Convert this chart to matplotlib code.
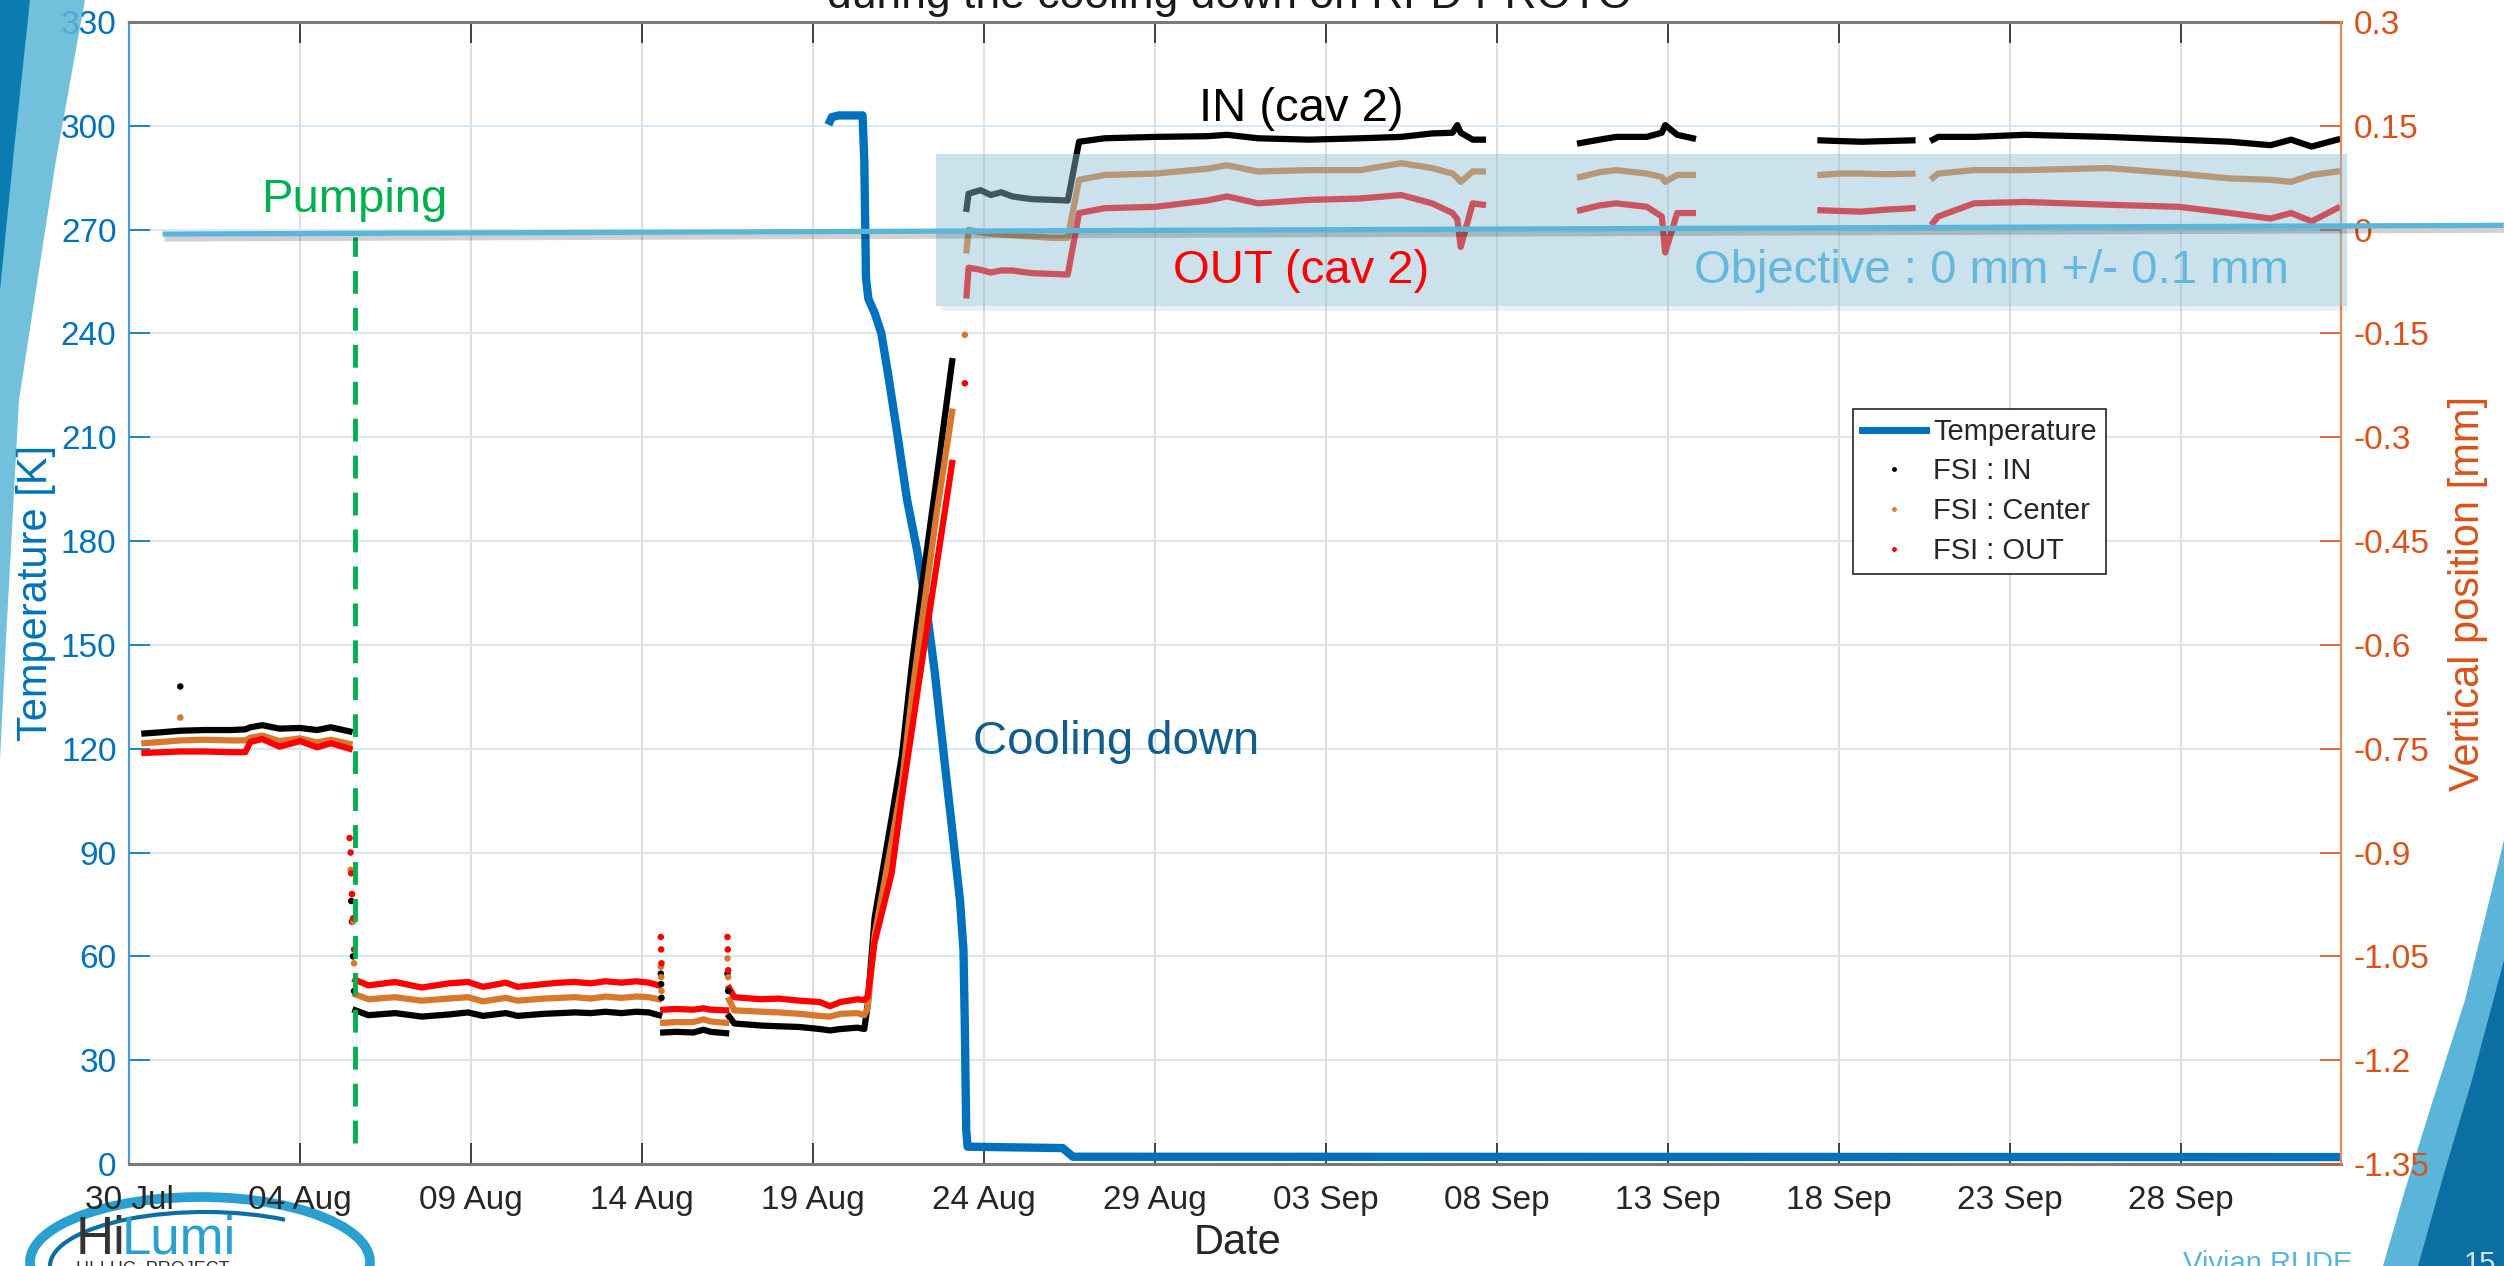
import datetime as dt
import numpy as np
import matplotlib
matplotlib.use("Agg")
import matplotlib.pyplot as plt
import matplotlib.dates as mdates
import matplotlib.patheffects as pe
from matplotlib.lines import Line2D
from matplotlib.patches import Rectangle, Polygon, Arc

plt.rcParams['font.family'] = ['Liberation Sans', 'DejaVu Sans']

START = dt.datetime(2021, 7, 30)
NAN = np.nan

# ---- cryostat temperature (days after 30 Jul, kelvin) ----
temp_days = [20.45, 20.55, 20.75, 21.45, 21.50, 21.55, 21.62, 21.80, 22.00, 22.20,
             22.45, 22.75, 23.05, 23.30, 23.55, 23.85, 24.10, 24.30, 24.40, 24.44,
             24.48, 24.52, 27.30, 27.60, 64.70]
temp_K = [300.3, 302.5, 303.0, 303.0, 290.0, 256.0, 250.0, 246.0, 240.0, 228.0,
          212.0, 192.0, 177.0, 162.0, 143.0, 116.0, 94.0, 76.0, 62.0, 40.0,
          10.0, 5.0, 4.6, 2.1, 2.0]

# ---- FSI vertical positions [mm]; NaN marks gaps between acquisitions ----
fsi_days = [
    0.45, 1.0, 1.5, 2.2, 3.0, 3.4, 3.55, 3.9, 4.4, 5.0, 5.5, 5.9, 6.45, NAN,
    6.62, 7.0, 7.78, 8.56, 9.35, 9.91, 10.35, 11.02, 11.36, 12.14, 12.6, 13.04,
    13.5, 13.93, 14.4, 14.83, 15.2, 15.5, NAN,
    15.62, 16.0, 16.5, 16.8, 17.0, 17.46, NAN,
    17.55, 17.7, 18.5, 19.0, 19.6, 20.2, 20.5, 20.8, 21.3, 21.5,
    21.6, 21.8, 22.3, 22.6, 22.9, 23.2, 23.6, 24.07, NAN,
    24.49, 24.55, 24.9, 25.2, 25.5, 25.83, 26.1, 26.43, 27.0, 27.45,
    27.78, 28.53, 30.02, 31.52, 32.11, 33.01, 34.51, 36.0, 37.2, 38.1,
    38.7, 38.84, 38.94, 39.29, 39.59, NAN,
    42.43, 43.0, 43.48, 44.38, 44.82, 44.92, 45.27, 45.73, NAN,
    49.46, 50.0, 50.66, 51.4, 52.15, NAN,
    52.75, 52.9, 53.95, 55.44, 57.84, 59.93, 61.43, 62.62, 63.22, 63.82, 64.57,
]
fsi_in = [
    -0.728, -0.726, -0.724, -0.723, -0.723, -0.722, -0.719, -0.716, -0.721, -0.720, -0.723, -0.719, -0.725, NAN,
    -1.128, -1.135, -1.132, -1.137, -1.134, -1.131, -1.136, -1.132, -1.136, -1.133, -1.132, -1.131,
    -1.132, -1.130, -1.132, -1.130, -1.131, -1.135, NAN,
    -1.160, -1.159, -1.160, -1.156, -1.159, -1.161, NAN,
    -1.137, -1.147, -1.150, -1.151, -1.152, -1.155, -1.157, -1.155, -1.153, -1.155,
    -1.120, -0.995, -0.850, -0.760, -0.625, -0.510, -0.365, -0.190, NAN,
    0.030, 0.052, 0.057, 0.050, 0.054, 0.048, 0.046, 0.044, 0.043, 0.042,
    0.127, 0.132, 0.134, 0.135, 0.137, 0.132, 0.130, 0.132, 0.134, 0.139,
    0.140, 0.151, 0.140, 0.130, 0.130, NAN,
    0.125, 0.130, 0.134, 0.134, 0.140, 0.151, 0.137, 0.132, NAN,
    0.129, 0.128, 0.127, 0.128, 0.129, NAN,
    0.130, 0.134, 0.134, 0.137, 0.134, 0.130, 0.127, 0.122, 0.130, 0.120, 0.130,
]
fsi_center = [
    -0.742, -0.740, -0.738, -0.737, -0.738, -0.738, -0.734, -0.731, -0.739, -0.735, -0.741, -0.737, -0.743, NAN,
    -1.105, -1.112, -1.109, -1.114, -1.111, -1.109, -1.115, -1.110, -1.114, -1.111, -1.110, -1.109,
    -1.111, -1.108, -1.110, -1.108, -1.109, -1.112, NAN,
    -1.146, -1.145, -1.145, -1.141, -1.144, -1.146, NAN,
    -1.113, -1.128, -1.130, -1.131, -1.133, -1.136, -1.137, -1.133, -1.132, -1.135,
    -1.125, -1.020, -0.885, -0.800, -0.670, -0.560, -0.415, -0.263, NAN,
    -0.030, 0.000, -0.004, -0.006, -0.007, -0.008, -0.009, -0.010, -0.012, -0.012,
    0.072, 0.079, 0.081, 0.088, 0.093, 0.084, 0.086, 0.086, 0.096, 0.089,
    0.081, 0.075, 0.069, 0.084, 0.084, NAN,
    0.076, 0.083, 0.086, 0.081, 0.076, 0.069, 0.079, 0.079, NAN,
    0.079, 0.081, 0.081, 0.080, 0.081, NAN,
    0.075, 0.081, 0.086, 0.086, 0.089, 0.081, 0.074, 0.072, 0.069, 0.079, 0.084,
]
fsi_out = [
    -0.756, -0.755, -0.754, -0.754, -0.755, -0.755, -0.740, -0.736, -0.747, -0.739, -0.748, -0.742, -0.750, NAN,
    -1.084, -1.092, -1.087, -1.095, -1.089, -1.087, -1.094, -1.088, -1.094, -1.090, -1.088, -1.087,
    -1.089, -1.086, -1.088, -1.086, -1.088, -1.092, NAN,
    -1.127, -1.126, -1.127, -1.125, -1.127, -1.128, NAN,
    -1.096, -1.109, -1.112, -1.111, -1.114, -1.116, -1.122, -1.116, -1.112, -1.113,
    -1.108, -1.030, -0.930, -0.820, -0.720, -0.620, -0.490, -0.337, NAN,
    -0.095, -0.055, -0.058, -0.062, -0.059, -0.059, -0.061, -0.063, -0.064, -0.065,
    0.024, 0.031, 0.033, 0.042, 0.048, 0.038, 0.043, 0.045, 0.050, 0.038,
    0.024, 0.015, -0.025, 0.038, 0.036, NAN,
    0.028, 0.035, 0.038, 0.033, 0.019, -0.033, 0.024, 0.024, NAN,
    0.028, 0.027, 0.026, 0.029, 0.031, NAN,
    0.010, 0.019, 0.038, 0.040, 0.036, 0.033, 0.024, 0.016, 0.024, 0.012, 0.031,
]

# isolated FSI readings during transients
in_pts_days = [1.5, 6.50, 6.52, 6.55, 6.58, 15.55, 15.56, 15.57, 17.50, 17.52]
in_pts_mm = [-0.660, -0.970, -1.000, -1.050, -1.100, -1.075, -1.090, -1.110, -1.075, -1.100]
center_pts_days = [1.5, 6.48, 6.52, 6.55, 6.58, 15.55, 15.56, 15.57, 17.50, 17.52, 24.44]
center_pts_mm = [-0.705, -0.925, -0.960, -1.000, -1.060, -1.065, -1.080, -1.100, -1.053, -1.080, -0.152]
out_pts_days = [6.45, 6.48, 6.50, 6.52, 6.55, 6.58, 15.55, 15.56, 15.57, 17.50, 17.51, 17.52, 24.44]
out_pts_mm = [-0.879, -0.900, -0.930, -0.960, -0.995, -1.040, -1.022, -1.040, -1.060, -1.022, -1.040, -1.070, -0.222]

pumping_day = 6.6
pumping_K = (6.0, 268.0)
objective_mm = 0.0
objective_tol = 0.11

x_ticks_days = list(range(0, 61, 5))
k_ticks = list(range(0, 331, 30))
mm_ticks = [round(-1.35 + 0.15 * i, 2) for i in range(12)]

# ---- colours ----
BLUE = '#0072BD'
ORANGE = '#D95319'
C_IN, C_CEN, C_OUT = '#000000', '#D9782D', '#FF0000'
SKY = '#5BB5D8'

t0 = mdates.date2num(START)


def to_x(days):
    return t0 + np.asarray(days, dtype=float)


fig = plt.figure(figsize=(25.04, 12.66), dpi=100)

# slide background furniture (behind the chart)
bg = fig.add_axes([0, 0, 1, 1], zorder=-1)
bg.set_xlim(0, 2504)
bg.set_ylim(1266, 0)
bg.axis('off')
bg.add_patch(Polygon([(2504, 840), (2465, 1000), (2433, 1100), (2405, 1190), (2383, 1266),
                      (2504, 1266)], closed=True, facecolor=SKY, edgecolor='none'))
bg.add_patch(Polygon([(2504, 960), (2472, 1080), (2445, 1170), (2418, 1266), (2504, 1266)],
                     closed=True, facecolor='#0B6FA4', edgecolor='none'))
bg.text(2268, 1250, 'Vivian RUDE', fontsize=21, color=SKY, ha='center', va='top')
bg.text(2480, 1250, '15', fontsize=21, color='#cfe6f2', ha='center', va='top')
# HiLumi logo
bg.add_patch(Arc((200, 1262), 340, 130, theta1=165, theta2=362, color='#2AA0D0', lw=7))
bg.add_patch(Arc((205, 1266), 310, 108, theta1=180, theta2=330, color='#0B6FA4', lw=3))
bg.text(76, 1254, 'Hi', fontsize=38, color='#333333', ha='left', va='baseline')
bg.text(122, 1254, 'Lumi', fontsize=38, color='#2AA0D0', ha='left', va='baseline')
bg.text(76, 1274, 'HI-LHC  PROJECT', fontsize=13, color='#333333', ha='left', va='baseline')

ax = fig.add_axes([129 / 2504, 1 - 1164 / 1266, (2341 - 129) / 2504, (1164 - 22) / 1266])
ax2 = ax.twinx()

# temperature on the left axis
ax.plot(to_x(temp_days), temp_K, color=BLUE, lw=6, solid_capstyle='butt', zorder=3)
ax.set_ylim(0, 330)
ax.set_yticks(k_ticks)
ax.set_xlim(t0, t0 + 64.68)
ax.set_xticks(to_x(x_ticks_days))
ax.xaxis.set_major_formatter(mdates.DateFormatter('%d %b'))
ax.grid(True, axis='x', color='#dcdcdc', lw=1.3)
ax.grid(True, axis='y', color='#d5e5f3', lw=1.3)
ax.set_axisbelow(True)

ax.tick_params(axis='x', direction='in', length=15, width=1.2, top=True, labelsize=24,
               colors='#262626', pad=15)
ax.tick_params(axis='y', direction='in', length=15, width=1.2, labelsize=24,
               colors=BLUE, pad=9)
for s in ('top', 'bottom'):
    ax.spines[s].set_color('#7a7a7a')
    ax.spines[s].set_linewidth(2.2)
ax.spines['left'].set_color('#4a98d4')
ax.spines['left'].set_linewidth(1.6)
ax.spines['right'].set_visible(False)
ax.set_xlabel('Date', fontsize=30, color='#262626')
ax.xaxis.set_label_coords(0.501, -0.052)
ax.set_ylabel('Temperature [K]', fontsize=30, color=BLUE)
ax.yaxis.set_label_coords(-0.033, 0.5)

# FSI positions on the right axis
for vals, col in ((fsi_in, C_IN), (fsi_center, C_CEN), (fsi_out, C_OUT)):
    ax2.plot(to_x(fsi_days), vals, color=col, lw=4.5, solid_joinstyle='round', zorder=2)
for d, v, col in ((in_pts_days, in_pts_mm, C_IN), (center_pts_days, center_pts_mm, C_CEN),
                  (out_pts_days, out_pts_mm, C_OUT)):
    ax2.scatter(to_x(d), v, s=22, color=col, edgecolors='none', zorder=2)

ax2.set_ylim(-1.35, 0.3)
ax2.set_yticks(mm_ticks)
ax2.set_yticklabels(['0' if abs(v) < 1e-9 else f'{v:g}' for v in mm_ticks])
ax2.tick_params(axis='y', direction='in', length=15, width=1.2, labelsize=24,
                colors=ORANGE, pad=9)
for s in ('top', 'bottom', 'left'):
    ax2.spines[s].set_visible(False)
ax2.spines['right'].set_color('#e58a5c')
ax2.spines['right'].set_linewidth(1.6)
ax2.set_ylabel('Vertical position [mm]', fontsize=30, color=ORANGE, rotation=90)
ax2.yaxis.set_label_coords(1.0485, 0.5)

# tolerance band around the objective
band = Rectangle((to_x(23.59), objective_mm - objective_tol), 64.87 - 23.59, 2 * objective_tol,
                 facecolor='#8CBDD5', alpha=0.45, edgecolor='none', zorder=4, clip_on=False)
ax2.add_patch(band)
ax2.add_patch(Rectangle((to_x(23.75), objective_mm - objective_tol - 0.008), 64.87 - 23.75, 0.008,
                        facecolor='#000000', alpha=0.06, edgecolor='none', zorder=4, clip_on=False))

# objective line
ax2.plot(to_x([0.98, 69.44]), [objective_mm - 0.0064, objective_mm + 0.0062], color=SKY, lw=3.8,
         zorder=6, clip_on=False, solid_capstyle='butt',
         path_effects=[pe.SimpleLineShadow(offset=(1.5, -3.5), alpha=0.18), pe.Normal()])

# start of pumping
ax2.plot(to_x([pumping_day, pumping_day]), pumping_K, transform=ax.transData,
         color='#00B050', lw=3.5, dashes=(4.7, 2.9), zorder=5)

# annotations
ax2.text(to_x(6.59), 275.0, 'Pumping', transform=ax.transData, fontsize=34, color='#00B050',
         ha='center', va='baseline', zorder=7)
ax2.text(to_x(34.28), 301.3, 'IN (cav 2)', transform=ax.transData, fontsize=34, color='#000000',
         ha='center', va='baseline', zorder=7)
ax2.text(to_x(34.28), 254.7, 'OUT (cav 2)', transform=ax.transData, fontsize=34, color='#FF0000',
         ha='center', va='baseline', zorder=7)
ax2.text(to_x(54.46), 254.7, 'Objective : 0 mm +/- 0.1 mm', transform=ax.transData, fontsize=34,
         color='#62B9DC', ha='center', va='baseline', zorder=7)
ax2.text(to_x(28.87), 118.5, 'Cooling down', transform=ax.transData, fontsize=34, color='#115E8E',
         ha='center', va='baseline', zorder=7)

# legend
handles = [
    Line2D([], [], color=BLUE, lw=5),
    Line2D([], [], color=C_IN, marker='.', ls='none', markersize=5),
    Line2D([], [], color='#E07B39', marker='.', ls='none', markersize=5),
    Line2D([], [], color=C_OUT, marker='.', ls='none', markersize=5),
]
leg = ax2.legend(handles, ['Temperature', 'FSI : IN', 'FSI : Center', 'FSI : OUT'],
                 loc='upper left', bbox_to_anchor=(1853 / 2504, 1 - 409 / 1266),
                 bbox_transform=fig.transFigure, borderaxespad=0, fontsize=21,
                 frameon=True, fancybox=False, framealpha=1, edgecolor='#262626',
                 handlelength=2.2, handletextpad=0.25, borderpad=0.3, labelspacing=0.4)
leg.get_frame().set_linewidth(1.2)
leg.set_zorder(8)
for t in leg.get_texts():
    t.set_color('#262626')

# slide furniture drawn over the chart
ov = fig.add_axes([0, 0, 1, 1], zorder=20)
ov.set_xlim(0, 2504)
ov.set_ylim(1266, 0)
ov.axis('off')
ov.patch.set_visible(False)
ov.text(1230, 8, 'during the cooling down on RFD PROTO', fontsize=32, color='#1a1a1a',
        ha='center', va='baseline')
ov.add_patch(Polygon([(0, 0), (85, 0), (56, 160), (19, 400), (6, 640), (0, 760)],
                     closed=True, facecolor=SKY, edgecolor='none', alpha=0.85))
ov.add_patch(Polygon([(0, 0), (30, 0), (14, 150), (0, 290)], closed=True,
                     facecolor='#0A7CB0', edgecolor='none'))

fig.savefig('out.png', dpi=100)
